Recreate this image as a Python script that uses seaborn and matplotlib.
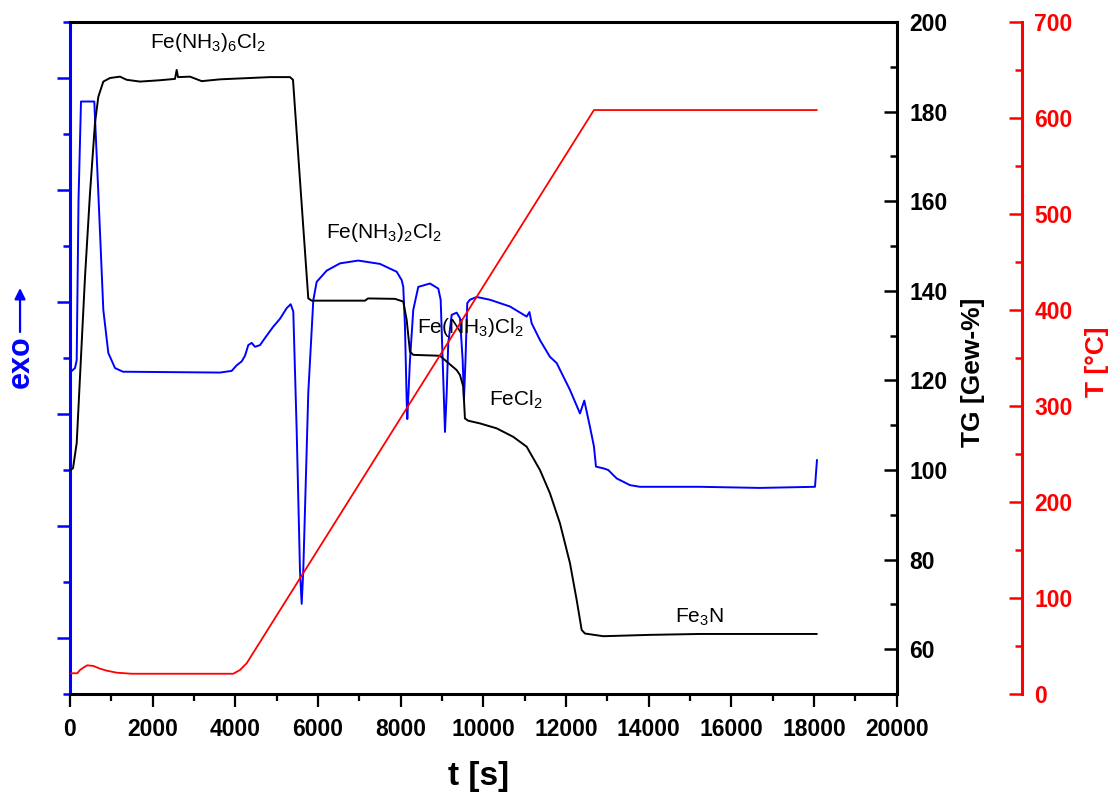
import matplotlib
matplotlib.use("Agg")
import matplotlib.pyplot as plt
from matplotlib.ticker import MultipleLocator
import pandas as pd
import seaborn as sns

# --- DSC signal (arbitrary units, exo up) ---
dsc_time = [12, 121, 162, 206, 266, 588, 685, 806, 927, 1089, 1282, 3629, 3912,
            4033, 4154, 4234, 4313, 4396, 4475, 4597, 4759, 4918, 5080, 5242,
            5339, 5402, 5484, 5564, 5605, 5644, 5765, 5886, 5968, 6210, 6532,
            6975, 7500, 7904, 8025, 8063, 8104, 8145, 8160, 8225, 8305, 8426,
            8709, 8910, 8968, 9016, 9072, 9113, 9151, 9234, 9355, 9435, 9500,
            9531, 9568, 9611, 9676, 9838, 10160, 10644, 11048, 11116, 11169,
            11370, 11612, 11774, 12096, 12338, 12442, 12580, 12676, 12725,
            12901, 13022, 13225, 13547, 13789, 15240, 16693, 18024, 18072]
dsc_signal = [5.75, 5.82, 5.96, 8.82, 10.58, 10.58, 8.95, 6.86, 6.09, 5.82, 5.755,
              5.74, 5.77, 5.87, 5.94, 6.04, 6.23, 6.27, 6.20, 6.23, 6.40, 6.56,
              6.70, 6.89, 6.96, 6.83, 4.71, 2.21, 1.61, 2.21, 5.38, 7.03, 7.36,
              7.56, 7.69, 7.74, 7.68, 7.54, 7.39, 7.27, 6.56, 5.25, 4.91, 5.96,
              6.86, 7.27, 7.33, 7.24, 7.04, 5.96, 4.68, 5.37, 6.26, 6.77, 6.81,
              6.71, 5.96, 5.25, 5.96, 6.98, 7.04, 7.09, 7.04, 6.92, 6.74, 6.82,
              6.62, 6.32, 6.02, 5.91, 5.43, 5.01, 5.24, 4.77, 4.42, 4.06, 4.03,
              4.00, 3.85, 3.73, 3.70, 3.70, 3.68, 3.70, 4.18]

# --- thermogravimetry, mass in % ---
tg_time = [12, 73, 162, 242, 363, 484, 605, 685, 806, 968, 1210, 1372, 1694,
           2177, 2540, 2581, 2613, 2903, 3186, 3629, 4355, 4838, 5322, 5395,
           5564, 5765, 5847, 6532, 7137, 7209, 7862, 8063, 8145, 8225, 8305,
           8951, 9113, 9355, 9435, 9515, 9555, 9635, 9918, 10322, 10724, 11048,
           11370, 11612, 11854, 12096, 12258, 12379, 12459, 12901, 14030,
           15240, 18070]
tg_mass = [100.0, 100.4, 106.0, 120.8, 143.1, 161.8, 177.5, 183.3, 186.7,
           187.5, 187.8, 187.1, 186.7, 187.0, 187.3, 189.3, 187.7, 187.8,
           186.8, 187.2, 187.5, 187.7, 187.7, 187.1, 164.7, 138.3, 137.8,
           137.8, 137.8, 138.3, 138.2, 137.6, 133.5, 126.4, 125.7, 125.5,
           124.2, 122.3, 121.2, 118.6, 111.5, 111.0, 110.4, 109.3, 107.4,
           105.2, 100.0, 94.8, 88.1, 79.2, 71.0, 64.3, 63.5, 62.9, 63.2,
           63.4, 63.4]

# --- furnace temperature in degC ---
temp_time = [17, 177, 242, 322, 419, 564, 726, 888, 1130, 1493, 3950, 4112,
             4274, 12676, 18070]
temp_value = [21.6, 21.6, 25.0, 27.4, 29.9, 29.2, 26.4, 24.3, 22.2, 21.1,
              21.1, 25.0, 32.0, 608.3, 608.3]

# --- phase annotations (placed on the TG scale) ---
phase_labels = [r"Fe(NH$_3$)$_6$Cl$_2$", r"Fe(NH$_3$)$_2$Cl$_2$",
                r"Fe(NH$_3$)Cl$_2$", r"FeCl$_2$", r"Fe$_3$N"]
phase_time = [3338, 7596, 9676, 10789, 15216]
phase_mass = [195.5, 153.1, 131.7, 115.6, 67.2]

dsc = pd.DataFrame({"t": dsc_time, "v": dsc_signal})
tg = pd.DataFrame({"t": tg_time, "v": tg_mass})
temp = pd.DataFrame({"t": temp_time, "v": temp_value})

sns.set_style("ticks")
plt.rcParams["font.family"] = ["Liberation Sans", "DejaVu Sans"]
plt.rcParams["mathtext.fontset"] = "custom"
plt.rcParams["mathtext.rm"] = "Liberation Sans"
plt.rcParams["mathtext.it"] = "Liberation Sans"
plt.rcParams["mathtext.bf"] = "Liberation Sans:bold"
plt.rcParams["mathtext.default"] = "rm"
plt.rcParams["text.color"] = "black"
plt.rcParams["axes.edgecolor"] = "black"
plt.rcParams["axes.labelcolor"] = "black"
plt.rcParams["xtick.color"] = "black"
plt.rcParams["ytick.color"] = "black"

BLUE = "#0000ff"
RED = "#ff0000"
TICK_FS = 16.5

fig = plt.figure(figsize=(11.2, 8), dpi=100)
ax = fig.add_axes([0.0625, 0.1325, 0.7381, 0.84])
ax_tg = ax.twinx()
ax_t = ax.twinx()
for a in (ax_tg, ax_t):
    a.patch.set_visible(False)

sns.lineplot(data=dsc, x="t", y="v", ax=ax, color=BLUE, lw=1.4,
             estimator=None, sort=False)
sns.lineplot(data=tg, x="t", y="v", ax=ax_tg, color="black", lw=1.4,
             estimator=None, sort=False)
sns.lineplot(data=temp, x="t", y="v", ax=ax_t, color=RED, lw=1.3,
             estimator=None, sort=False)

# x axis
ax.set_xlim(0, 20000)
ax.xaxis.set_major_locator(MultipleLocator(2000))
ax.xaxis.set_minor_locator(MultipleLocator(1000))
ax.set_xlabel("")
ax.tick_params(axis="x", which="major", direction="out", length=9.5, width=1.6,
               pad=7.5, labelsize=TICK_FS, colors="black")
ax.tick_params(axis="x", which="minor", direction="out", length=5, width=1.6,
               colors="black")
for lab in ax.get_xticklabels():
    lab.set_fontweight("bold")

# left DSC axis: ticks only
ax.set_ylim(0, 12)
ax.set_yticks([1, 3, 5, 7, 9, 11])
ax.set_yticks(list(range(0, 13, 2)), minor=True)
ax.set_yticklabels([])
ax.set_ylabel("")
ax.tick_params(axis="y", which="major", direction="out", length=9.5, width=1.8,
               color=BLUE)
ax.tick_params(axis="y", which="minor", direction="out", length=5, width=1.8,
               color=BLUE)
ax.spines["left"].set_color(BLUE)
ax.spines["left"].set_linewidth(2.2)
for s in ("bottom", "top"):
    ax.spines[s].set_visible(True)
    ax.spines[s].set_color("black")
    ax.spines[s].set_linewidth(2.2)
ax.spines["right"].set_visible(False)

# TG axis
ax_tg.set_ylim(50, 200)
ax_tg.yaxis.set_major_locator(MultipleLocator(20))
ax_tg.yaxis.set_minor_locator(MultipleLocator(10))
ax_tg.set_ylabel("")
ax_tg.tick_params(axis="y", which="major", direction="in", length=9.5, width=1.8,
                  pad=9, labelsize=TICK_FS, colors="black")
ax_tg.tick_params(axis="y", which="minor", direction="in", length=5, width=1.8,
                  colors="black")
for lab in ax_tg.get_yticklabels():
    lab.set_fontweight("bold")
for s in ("left", "top", "bottom"):
    ax_tg.spines[s].set_visible(False)
ax_tg.spines["right"].set_linewidth(2.2)
ax_tg.spines["right"].set_color("black")

# temperature axis, offset to the right
ax_t.set_ylim(0, 700)
ax_t.yaxis.set_major_locator(MultipleLocator(100))
ax_t.yaxis.set_minor_locator(MultipleLocator(50))
ax_t.set_ylabel("")
ax_t.spines["right"].set_position(("axes", 1.1512))
ax_t.spines["right"].set_color(RED)
ax_t.spines["right"].set_linewidth(2.2)
for s in ("left", "top", "bottom"):
    ax_t.spines[s].set_visible(False)
ax_t.tick_params(axis="y", which="major", direction="in", length=9.5, width=1.8,
                 pad=9, labelsize=TICK_FS, colors=RED)
ax_t.tick_params(axis="y", which="minor", direction="in", length=5, width=1.8,
                 colors=RED)
for lab in ax_t.get_yticklabels():
    lab.set_fontweight("bold")

# phase names
for txt, tx, my in zip(phase_labels, phase_time, phase_mass):
    ax_tg.text(tx, my, txt, fontsize=15, ha="center", va="center",
               color="black")

# axis titles
fig.text(0.4272, 0.030, "t [s]", fontsize=24, fontweight="bold",
         ha="center", va="center", color="black")
fig.text(0.8688, 0.535, "TG [Gew-%]", fontsize=19, fontweight="bold",
         rotation=90, ha="center", va="center", color="black")
fig.text(0.9795, 0.5475, "T [°C]", fontsize=19, fontweight="bold",
         rotation=90, ha="center", va="center", color=RED)
fig.text(0.0188, 0.5475, "exo", fontsize=22, fontweight="bold", rotation=90,
         ha="center", va="center", color=BLUE)
ax.annotate("", xy=(0.0179, 0.640), xytext=(0.0179, 0.585),
            xycoords="figure fraction", textcoords="figure fraction",
            arrowprops=dict(arrowstyle="-|>", color=BLUE, lw=1.6,
                            mutation_scale=16, shrinkA=0, shrinkB=0))

fig.savefig("out.png", dpi=100)
